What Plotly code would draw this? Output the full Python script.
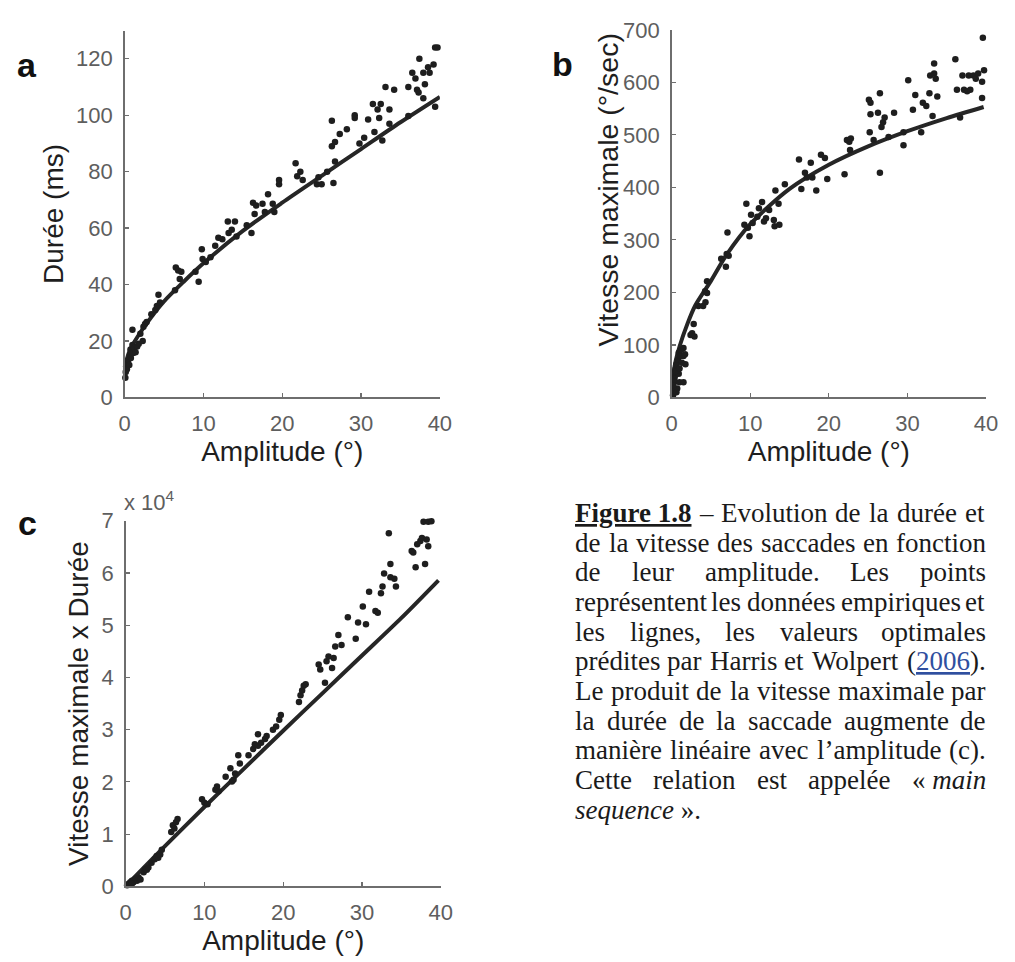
import plotly.graph_objects as go

# ---------------- data ----------------
# Panel a : duration (ms) vs amplitude (deg)
A_X = [0.1, 0.15, 0.2, 0.3, 0.4, 0.5, 0.6, 0.7, 0.75, 0.8, 1.0, 1.1, 1.2, 1.0, 1.4, 1.6, 1.8, 2.0, 2.3,
       2.4, 2.6, 2.8, 3.4, 3.9, 4.1, 4.3, 4.5,
       6.4, 6.5, 6.8, 7.0, 7.2, 9.0, 9.4, 9.8, 9.9, 10.3, 10.9, 11.5, 11.9, 12.4, 13.1, 13.2, 13.6, 14.0,
       14.2, 15.5, 16.1, 16.3, 16.5, 16.7, 17.5, 17.8, 18.2, 18.8, 19.0, 19.6, 19.6, 21.7, 21.9, 22.3,
       22.6, 24.4, 24.6, 25.0, 25.7, 26.3, 26.3, 26.5, 26.7, 26.7, 27.3, 28.2, 29.2, 29.2, 29.8, 30.4,
       30.9, 31.5, 31.7, 32.1, 32.3, 32.5, 32.7, 33.1, 33.6, 33.6, 34.2, 36.0, 36.0, 36.5, 36.9, 37.1,
       37.3, 37.4, 37.9, 37.9, 38.1, 38.5, 38.7, 39.2, 39.4, 39.7, 39.4]
A_Y = [7, 9, 11, 10, 12, 13.4, 11.5, 15, 17, 14, 18.6, 15.7, 17.5, 24, 16, 18, 19, 22.6, 20,
       25, 26, 26.7, 29.5, 31, 32.4, 36.4, 33.6,
       38, 46, 45, 42, 44.5, 44.5, 41, 52.5, 49, 48, 49.7, 53.7, 56.6, 56, 62.3, 58.3, 59.4, 62.3,
       57, 61, 58.3, 69, 65, 68, 68.6, 65.7, 72, 68.6, 65.7, 77, 75.5, 83, 78.4, 80,
       77, 75.5, 78, 75.5, 80, 98, 89, 76, 90.5, 83.6, 93.3, 95, 100, 99, 90, 92,
       98.5, 104, 94, 102, 99, 104, 91, 110, 102, 97, 109, 110, 99.7, 115, 113, 109,
       108, 120, 115, 106, 111, 117, 115, 118, 124, 124, 103]
A_FIT_X = [0, 0.25, 0.5, 1, 2, 3, 5, 7.5, 10, 15, 20, 25, 30, 35, 40]
A_FIT_Y = [9, 13, 15.5, 18.5, 23, 27, 34, 41, 47.5, 59, 69, 78.5, 88, 97.5, 106.5]

# Panel b : peak velocity (deg/s) vs amplitude (deg)
B_X = [0.17, 0.3, 0.3, 0.4, 0.5, 0.6, 0.7, 0.8, 0.9, 1.0, 1.1, 1.2, 1.3, 1.5, 1.5, 1.7, 0.6, 0.9, 1.5, 1.75,
       0.2, 0.35, 0.45, 1.0,
       2.4, 2.6, 2.8, 2.9, 3.4, 4.0, 4.25, 4.5, 4.3, 4.5, 6.3, 6.9, 7.0, 7.1, 7.25,
       9.25, 9.5, 9.7, 9.9, 10.1, 10.3, 10.9, 11.1, 11.5, 11.75, 12.0, 12.4, 13.0, 13.1, 13.2, 13.6,
       13.7, 14.4, 16.2, 16.5, 16.96, 17.2, 17.7, 17.9, 18.4, 19.0, 19.5, 19.8, 22.0, 22.3, 22.6,
       22.8, 22.7, 25.1, 25.3, 25.2, 25.3, 25.7, 26.25, 26.5, 26.7, 26.5, 26.9, 27.1, 27.6, 28.3,
       29.5, 29.5, 30.1, 30.7, 31.0, 31.75, 31.96, 32.4, 32.8, 32.9, 33.2, 33.4, 33.4, 33.6, 33.8,
       36.1, 36.3, 36.7, 37.0, 37.2, 37.6, 37.8, 38.0, 38.4, 38.7, 39.0, 39.5, 39.6, 39.75, 39.5]
B_Y = [4, 14, 29, 41, 54, 63, 17, 72, 85, 29, 79, 91, 66, 79, 94, 82, 10, 45, 29, 63,
       22, 35, 50, 55,
       119, 122, 140, 116, 174, 174, 202, 199, 181, 221, 264, 249, 273, 314, 270,
       329, 369, 323, 307, 348, 332, 344, 360, 372, 335, 341, 357, 338, 326, 394, 369,
       329, 406, 453, 397, 428, 419, 447, 419, 394, 462, 456, 416, 425, 490, 487,
       493, 471, 567, 561, 505, 539, 490, 542, 579, 515, 428, 524, 533, 496, 542,
       480, 505, 604, 548, 576, 505, 561, 555, 579, 613, 536, 636, 617, 607, 573,
       644, 586, 533, 613, 586, 583, 613, 586, 613, 607, 617, 601, 685, 623, 570]
B_FIT_X = [0, 0.1, 0.25, 0.5, 1, 2, 3, 5, 7, 10, 15, 20, 25, 30, 35, 39.7]
B_FIT_Y = [0, 30, 48, 69, 97, 140, 175, 222, 272, 330, 397, 443, 478, 507, 532, 553]

# Panel c : peak velocity x duration (x 10^4) vs amplitude (deg)
C_X = [0.2, 0.4, 0.6, 0.8, 1.0, 1.25, 1.45, 1.66, 1.9, 0.8,
       2.3, 2.5, 2.7, 2.9, 3.3, 3.7, 3.95, 4.15, 4.4, 4.6,
       5.8, 6.0, 6.2, 6.4, 6.6,
       9.7, 10.0, 10.4, 11.4, 11.6, 11.8, 12.7, 13.3, 13.5, 13.7, 13.9, 14.3, 14.5, 15.6, 16.2,
       16.4, 16.8, 16.8, 17.2, 17.7, 17.9, 18.7, 19.1, 19.5, 19.7, 22.0, 22.2, 22.4, 22.6, 22.85,
       24.5, 24.7, 25.3, 25.5, 25.75, 26.2, 26.4, 26.6, 27.0, 27.4, 28.2, 29.2, 29.5, 30.1, 30.5,
       30.9, 31.7, 32.0, 32.4, 32.6, 32.8, 33.4, 33.6, 33.6, 34.1, 34.3, 36.3, 36.5, 36.8, 37.0,
       37.4, 37.6, 37.8, 38.0, 38.2, 38.4, 38.4, 38.8]
C_Y = [0.02, 0.05, 0.08, 0.11, 0.08, 0.14, 0.11, 0.17, 0.13, 0.05,
       0.27, 0.33, 0.32, 0.36, 0.45, 0.52, 0.58, 0.55, 0.61, 0.70,
       1.04, 1.17, 1.11, 1.23, 1.29,
       1.67, 1.60, 1.57, 1.85, 1.91, 1.82, 2.10, 2.26, 2.01, 2.04, 2.16, 2.51, 2.35, 2.51, 2.63,
       2.72, 2.91, 2.69, 2.75, 2.82, 2.88, 3.00, 3.06, 3.19, 3.28, 3.53, 3.66, 3.75, 3.84, 3.87,
       4.25, 4.15, 3.90, 4.31, 4.40, 4.18, 4.37, 4.59, 4.81, 4.62, 5.15, 4.74, 5.05, 5.36, 5.02,
       5.64, 5.27, 5.24, 5.61, 5.74, 5.99, 6.76, 6.17, 5.92, 5.89, 5.74, 6.42, 6.39, 6.11, 6.55,
       6.61, 6.67, 6.98, 6.17, 6.64, 6.51, 6.98, 6.99]
C_FIT_X = [0, 5, 10, 15, 20, 25, 30, 35, 39.7]
C_FIT_Y = [0, 0.77, 1.52, 2.25, 2.98, 3.70, 4.42, 5.14, 5.86]

X_TICKS = [0, 10, 20, 30, 40]
A_TICKS = [0, 20, 40, 60, 80, 100, 120]
B_TICKS = [0, 100, 200, 300, 400, 500, 600, 700]
C_TICKS = [0, 1, 2, 3, 4, 5, 6, 7]

X_TITLE = "Amplitude (°)"
A_TITLE = "Durée (ms)"
B_TITLE = "Vitesse maximale (°/sec)"
C_TITLE = "Vitesse maximale x Durée"
C_EXP = "x 10<sup>4</sup>"

CAPTION_LINES = [
    [[("Figure\u00a01.8", "bu")], "–", "Evolution", "de", "la", "durée", "et"],
    ["de", "la", "vitesse", "des", "saccades", "en", "fonction"],
    ["de", "leur", "amplitude.", "Les", "points"],
    ["représentent", "les", "données", "empiriques", "et"],
    ["les", "lignes,", "les", "valeurs", "optimales"],
    ["prédites", "par", "Harris", "et", "Wolpert", [("(", "r"), ("2006", "link"), (").", "r")]],
    ["Le", "produit", "de", "la", "vitesse", "maximale", "par"],
    ["la", "durée", "de", "la", "saccade", "augmente", "de"],
    ["manière", "linéaire", "avec", "l’amplitude", "(c)."],
    ["Cette", "relation", "est", "appelée", [("«\u00a0", "r"), ("main", "i")]],
]
CAPTION_LAST = [("sequence", "i"), ("\u00a0».", "r")]

# ---------------- layout helpers ----------------
W, H = 1015, 962


def fx(p):
    return p / W


def fy(p):
    return 1 - p / H


SANS = "Liberation Sans, Arial, Helvetica, sans-serif"
SERIF = "Liberation Serif, Times New Roman, serif"
INK = "#1e1e1e"
AXC = "#6e6e6e"
TICKC = "#5e5e5e"

fig = go.Figure()

panels = [
    ("x", "y", A_X, A_Y, A_FIT_X, A_FIT_Y),
    ("x2", "y2", B_X, B_Y, B_FIT_X, B_FIT_Y),
    ("x3", "y3", C_X, C_Y, C_FIT_X, C_FIT_Y),
]
for xa, ya, px, py, lx, ly in panels:
    fig.add_trace(go.Scatter(x=lx, y=ly, xaxis=xa, yaxis=ya, mode="lines",
                             line=dict(color="#262626", width=4, shape="spline", smoothing=0.8),
                             hoverinfo="skip", showlegend=False))
    fig.add_trace(go.Scatter(x=px, y=py, xaxis=xa, yaxis=ya, mode="markers", cliponaxis=False,
                             marker=dict(color=INK, size=6.5, line=dict(width=0)),
                             showlegend=False))

axis_common = dict(
    showline=True, linecolor=AXC, linewidth=1.5, mirror=False,
    ticks="inside", ticklen=4, tickwidth=1.2, tickcolor=AXC,
    showgrid=False, zeroline=False, fixedrange=True,
    tickfont=dict(family=SANS, size=22, color=TICKC),
    title_font=dict(family=SANS, size=28, color=INK),
    ticklabelstandoff=6,
)

fig.update_layout(
    width=W, height=H, margin=dict(l=0, r=0, t=0, b=0, pad=0),
    paper_bgcolor="white", plot_bgcolor="white",
    showlegend=False,
    xaxis=dict(axis_common, domain=[fx(120.7), fx(441.7)], range=[0, 40], tickvals=X_TICKS,
               anchor="y", title=dict(text=X_TITLE, standoff=4)),
    yaxis=dict(axis_common, domain=[fy(395.7), fy(19)], range=[0, 130], tickvals=A_TICKS,
               anchor="x", title=dict(text=A_TITLE, standoff=4)),
    xaxis2=dict(axis_common, domain=[fx(677.7), fx(997.7)], range=[0, 40], tickvals=X_TICKS,
                anchor="y2", title=dict(text=X_TITLE, standoff=4)),
    yaxis2=dict(axis_common, domain=[fy(395.7), fy(18.3)], range=[0, 700], tickvals=B_TICKS,
                anchor="x2"),
    xaxis3=dict(axis_common, domain=[fx(121.7), fx(442.7)], range=[0, 40], tickvals=X_TICKS,
                anchor="y3", title=dict(text=X_TITLE, standoff=4)),
    yaxis3=dict(axis_common, domain=[fy(897.7), fy(522.3)], range=[0, 7], tickvals=C_TICKS,
                anchor="x3", title=dict(text=C_TITLE, standoff=4)),
)

ann = []
# panel b y title (offset from the axis centre in the original)
ann.append(dict(text=B_TITLE, x=fx(612.5), y=fy(182.6), xref="paper", yref="paper",
                xanchor="center", yanchor="middle", textangle=-90, showarrow=False,
                font=dict(family=SANS, size=28.5, color=INK)))
# x10^4 multiplier
ann.append(dict(text=C_EXP, x=fx(120.5), y=fy(516.5), xref="paper", yref="paper",
                xanchor="left", yanchor="bottom", showarrow=False, borderpad=0, borderwidth=0,
                font=dict(family=SANS, size=22, color=TICKC)))
# panel letters
for letter, lx0, base in [("a", 11, 66), ("b", 556, 65), ("c", 12, 536.7)]:
    ann.append(dict(text="<b>%s</b>" % letter, x=fx(lx0), y=fy(base - 11.8), xref="paper", yref="paper",
                    xanchor="left", yanchor="middle", showarrow=False, borderpad=0, borderwidth=0,
                    font=dict(family=SANS, size=34, color="#111111")))

# ---------------- caption (justified, Times metrics) ----------------
TNR_R = {' ': 250, '\u00a0': 250, 'a': 444, 'b': 500, 'c': 444, 'd': 500, 'e': 444, 'f': 333, 'g': 500,
         'h': 500, 'i': 278, 'j': 278, 'k': 500, 'l': 278, 'm': 778, 'n': 500, 'o': 500, 'p': 500,
         'q': 500, 'r': 333, 's': 389, 't': 278, 'u': 500, 'v': 500, 'w': 722, 'x': 500, 'y': 500,
         'z': 444, 'A': 722, 'C': 667, 'E': 611, 'F': 556, 'H': 722, 'L': 611, 'W': 944, 'é': 444,
         'è': 444, '’': 333, '(': 333, ')': 333, '.': 250, ',': 250, '«': 500, '»': 500, '–': 500}
TNR_I = {'a': 500, 'c': 444, 'e': 444, 'i': 278, 'm': 722, 'n': 500, 'q': 500, 's': 389, 'u': 500}
TNR_B = {'F': 611, 'i': 278, 'g': 500, 'u': 556, 'r': 444, 'e': 444, ' ': 250, '\u00a0': 250,
         '1': 500, '.': 250, '8': 500}
CAP_SIZE = 27
CAP_LEFT, CAP_RIGHT = 579.3, 996.3
CAP_BASE0, CAP_STEP = 523.5, 30.45
LINK_COLOR = "#2f4f9f"


def seg_width(t, st):
    table = TNR_B if st == "bu" else TNR_I if st == "i" else TNR_R
    return sum(table.get(ch, 500) for ch in t) / 1000.0 * CAP_SIZE


def seg_html(t, st):
    if st == "bu":
        return "<b><u>%s</u></b>" % t
    if st == "i":
        return "<i>%s</i>" % t
    if st == "link":
        return "<span style='color:%s'><u>%s</u></span>" % (LINK_COLOR, t)
    return t


def norm(word):
    return [(word, "r")] if isinstance(word, str) else word


def cap_ann(html, xpx, base):
    return dict(text=html, x=fx(xpx), y=fy(base - 0.3375 * CAP_SIZE), xref="paper", yref="paper",
                xanchor="left", yanchor="middle", showarrow=False, borderpad=0, borderwidth=0,
                font=dict(family=SERIF, size=CAP_SIZE, color="#1a1a1a"))


for i, line in enumerate(CAPTION_LINES):
    base = CAP_BASE0 + i * CAP_STEP
    words = [norm(w) for w in line]
    widths = [sum(seg_width(t, st) for t, st in w) for w in words]
    gap = (CAP_RIGHT - CAP_LEFT - sum(widths)) / (len(words) - 1)
    xpos = CAP_LEFT
    for w, wd in zip(words, widths):
        ann.append(cap_ann("".join(seg_html(t, st) for t, st in w), xpos, base))
        xpos += wd + gap

last_base = CAP_BASE0 + len(CAPTION_LINES) * CAP_STEP
ann.append(cap_ann("".join(seg_html(t, st) for t, st in CAPTION_LAST), CAP_LEFT, last_base))

fig.update_layout(annotations=ann)

fig.write_html("out.html", config={"displayModeBar": False, "staticPlot": True},
               post_script="document.body.style.margin='0';")
